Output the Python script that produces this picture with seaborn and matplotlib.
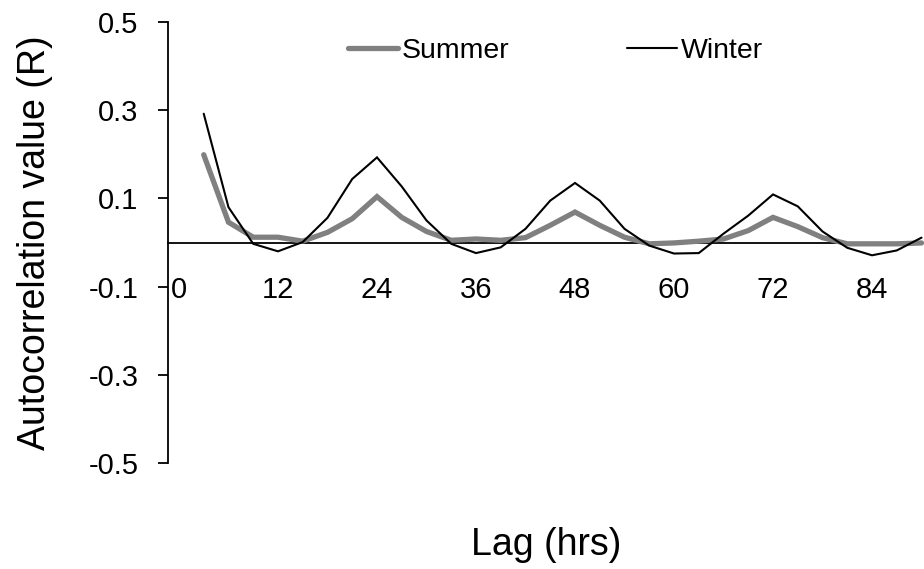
import matplotlib
matplotlib.use("Agg")
import matplotlib.pyplot as plt
from matplotlib.lines import Line2D
import numpy as np
import pandas as pd
import seaborn as sns

# Lag in hours (sampled every 3 h)
lags = [3, 6, 9, 12, 15, 18, 21, 24, 27, 30,
        33, 36, 39, 42, 45, 48, 51, 54, 57, 60,
        63, 66, 69, 72, 75, 78, 81, 84, 87, 90]

summer = [0.199, 0.046, 0.012, 0.012, 0.003, 0.023, 0.054, 0.104, 0.057, 0.025,
          0.005, 0.008, 0.005, 0.011, 0.039, 0.069, 0.039, 0.012, -0.003, -0.001,
          0.003, 0.008, 0.027, 0.057, 0.036, 0.011, -0.003, -0.003, -0.003, -0.001]

winter = [0.292, 0.080, -0.003, -0.020, 0.001, 0.056, 0.144, 0.193, 0.127, 0.050,
          -0.003, -0.024, -0.011, 0.031, 0.095, 0.135, 0.095, 0.031, -0.007, -0.025,
          -0.024, 0.020, 0.061, 0.109, 0.082, 0.025, -0.012, -0.029, -0.018, 0.011]

x_ticks = [0, 12, 24, 36, 48, 60, 72, 84]
y_ticks = [0.5, 0.3, 0.1, -0.1, -0.3, -0.5]

series_names = ["Summer", "Winter"]

sns.set_style("white")
plt.rcParams["font.family"] = ["Liberation Sans", "DejaVu Sans"]
plt.rcParams["text.color"] = "black"
plt.rcParams["axes.labelcolor"] = "black"
plt.rcParams["xtick.color"] = "black"
plt.rcParams["ytick.color"] = "black"

df = pd.DataFrame({
    "Lag": lags * 2,
    "R": summer + winter,
    "Season": [series_names[0]] * len(lags) + [series_names[1]] * len(lags),
})

fig = plt.figure(figsize=(9.24, 5.69), dpi=100)
ax = fig.add_axes([168 / 924, (569 - 463) / 569, (924 - 168) / 924, (463 - 22) / 569])

palette = {"Summer": "#808080", "Winter": "#000000"}
sizes = {"Summer": 3.8, "Winter": 1.5}
sns.lineplot(data=df, x="Lag", y="R", hue="Season", size="Season",
             palette=palette, sizes=sizes, legend=False, ax=ax, zorder=3)
for ln in ax.lines:
    ln.set_solid_capstyle("round")
    ln.set_solid_joinstyle("miter")

ax.set_xlim(-1.33, 90.3)
ax.set_ylim(-0.5, 0.5)

# Left spine as the value axis; the category axis crosses at zero
for side in ("top", "right"):
    ax.spines[side].set_visible(False)
ax.spines["left"].set_linewidth(1.3)
ax.spines["left"].set_color("black")
ax.spines["bottom"].set_position(("data", 0))
ax.spines["bottom"].set_linewidth(1.3)
ax.spines["bottom"].set_color("black")
ax.spines["bottom"].set_zorder(2)

ax.set_yticks(y_ticks)
ax.set_yticklabels([f"{v:.1f}" for v in y_ticks])
ax.tick_params(axis="y", direction="out", length=7.2, width=1.3, color="black",
               labelsize=21, pad=14, left=True)

ax.set_xticks(x_ticks)
ax.set_xticklabels([str(v) for v in x_ticks])
ax.tick_params(axis="x", length=0, labelsize=21, pad=24, bottom=True)

ax.set_ylabel("Autocorrelation value (R)", fontsize=27)
ax.yaxis.set_label_coords((35 - 168) / 756, 0.5)
ax.yaxis.label.set_va("center")
ax.set_xlabel("Lag (hrs)", fontsize=27)
ax.xaxis.set_label_coords(0.5, (463 - 545) / 441)
ax.xaxis.label.set_va("center")

handles = [Line2D([], [], color=palette[n], lw=sizes[n], solid_capstyle="round")
           for n in series_names]
ax.legend(handles, series_names, loc="center left", ncol=2, frameon=False,
          bbox_to_anchor=(348 / 924, 1 - 51 / 569), bbox_transform=fig.transFigure,
          fontsize=20.5, handlelength=1.75, handletextpad=0.15, columnspacing=4.12,
          borderpad=0, borderaxespad=0)

fig.savefig("out.png", dpi=100)
